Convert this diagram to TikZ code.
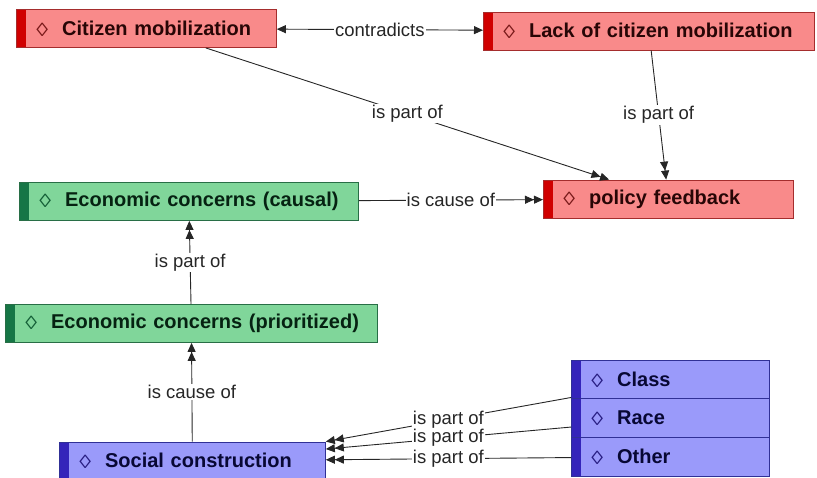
\documentclass[tikz,border=0pt]{standalone}
\usepackage{fontspec}
\setmainfont{Liberation Sans}
\usetikzlibrary{positioning,arrows.meta}

\definecolor{redfill}{RGB}{249,138,138}
\definecolor{redbar}{RGB}{208,0,0}
\definecolor{redline}{RGB}{165,45,45}
\definecolor{redtext}{RGB}{40,6,6}
\definecolor{reddmd}{RGB}{120,25,25}
\definecolor{greenfill}{RGB}{128,214,154}
\definecolor{greenbar}{RGB}{22,118,70}
\definecolor{greenline}{RGB}{40,110,70}
\definecolor{greentext}{RGB}{6,34,18}
\definecolor{greendmd}{RGB}{20,95,55}
\definecolor{bluefill}{RGB}{154,154,250}
\definecolor{bluebar}{RGB}{52,36,186}
\definecolor{blueline}{RGB}{48,48,150}
\definecolor{bluetext}{RGB}{8,8,52}
\definecolor{bluedmd}{RGB}{40,30,130}

% diamond marker in front of each concept
\newcommand{\dmd}[2]{\mbox{\raisebox{-1pt}{\scalebox{1.25}[1]{\mdseries\fontsize{19}{19}\selectfont\textcolor{#1}{◊}}}\hspace{14pt}#2}}

\begin{document}
\begin{tikzpicture}[
  x=1pt, y=-1pt,
  concept/.style={draw, line width=0.8pt, minimum height=38pt, inner xsep=20pt, inner ysep=0pt,
    align=left, anchor=west, font=\fontsize{20}{24}\selectfont\bfseries},
  redbox/.style={concept, draw=redline, fill=redfill, text=redtext,
    path picture={\fill[redbar] (path picture bounding box.north west) rectangle ([xshift=10pt]path picture bounding box.south west);}},
  greenbox/.style={concept, draw=greenline, fill=greenfill, text=greentext,
    path picture={\fill[greenbar] (path picture bounding box.north west) rectangle ([xshift=10pt]path picture bounding box.south west);}},
  bluebox/.style={concept, draw=blueline, fill=bluefill, text=bluetext,
    path picture={\fill[bluebar] (path picture bounding box.north west) rectangle ([xshift=10pt]path picture bounding box.south west);}},
  hd/.tip={Triangle[length=9pt,width=8pt]},
  link/.style={line width=0.9pt, draw=black!85, -{hd[]hd[]}},
  lbl/.style={fill=white, inner sep=1pt, text=black!85, font=\fontsize{18.5}{20}\selectfont}
]
\useasboundingbox (0,0) rectangle (817,478);

\node[redbox, text width=220pt] (cm) at (16,28.5) {\dmd{reddmd}{Citizen mobilization}};
\node[redbox, text width=291pt] (lack) at (483,31) {\dmd{reddmd}{Lack of citizen mobilization}};
\node[redbox, text width=210pt] (pf) at (543,199) {\dmd{reddmd}{policy feedback}};
\node[greenbox, text width=299pt] (ecc) at (19,201.5) {\dmd{greendmd}{Economic concerns (causal)}};
\node[greenbox, text width=332pt] (ecp) at (5,323.5) {\dmd{greendmd}{Economic concerns (prioritized)}};
\node[bluebox, text width=226pt] (sc) at (59,461) {\dmd{bluedmd}{Social construction}};
\node[bluebox, text width=158pt, minimum height=38.5pt, anchor=north west] (class) at (571,360) {\dmd{bluedmd}{Class}};
\node[bluebox, text width=158pt, minimum height=38.5pt, below=-0.8pt of class] (race) {\dmd{bluedmd}{Race}};
\node[bluebox, text width=158pt, minimum height=38.5pt, below=-0.8pt of race] (other) {\dmd{bluedmd}{Other}};

\draw[line width=0.9pt, draw=black!85, {hd[]}-{hd[]}] (cm) -- node[lbl] {contradicts} (lack);
\draw[link] (cm) -- node[lbl] {is part of} (pf);
\draw[link] (lack) -- node[lbl] {is part of} (pf);
\draw[link] (ecc) -- node[lbl] {is cause of} (pf);
\draw[link] (ecp) -- node[lbl] {is part of} (ecc);
\draw[link] (sc) -- node[lbl] {is cause of} (ecp);
\draw[link] (class) -- node[lbl] {is part of} (sc.north east);
\draw[link] (race) -- node[lbl] {is part of} (sc);
\draw[link] (other) -- node[lbl] {is part of} (sc);
\end{tikzpicture}
\end{document}
